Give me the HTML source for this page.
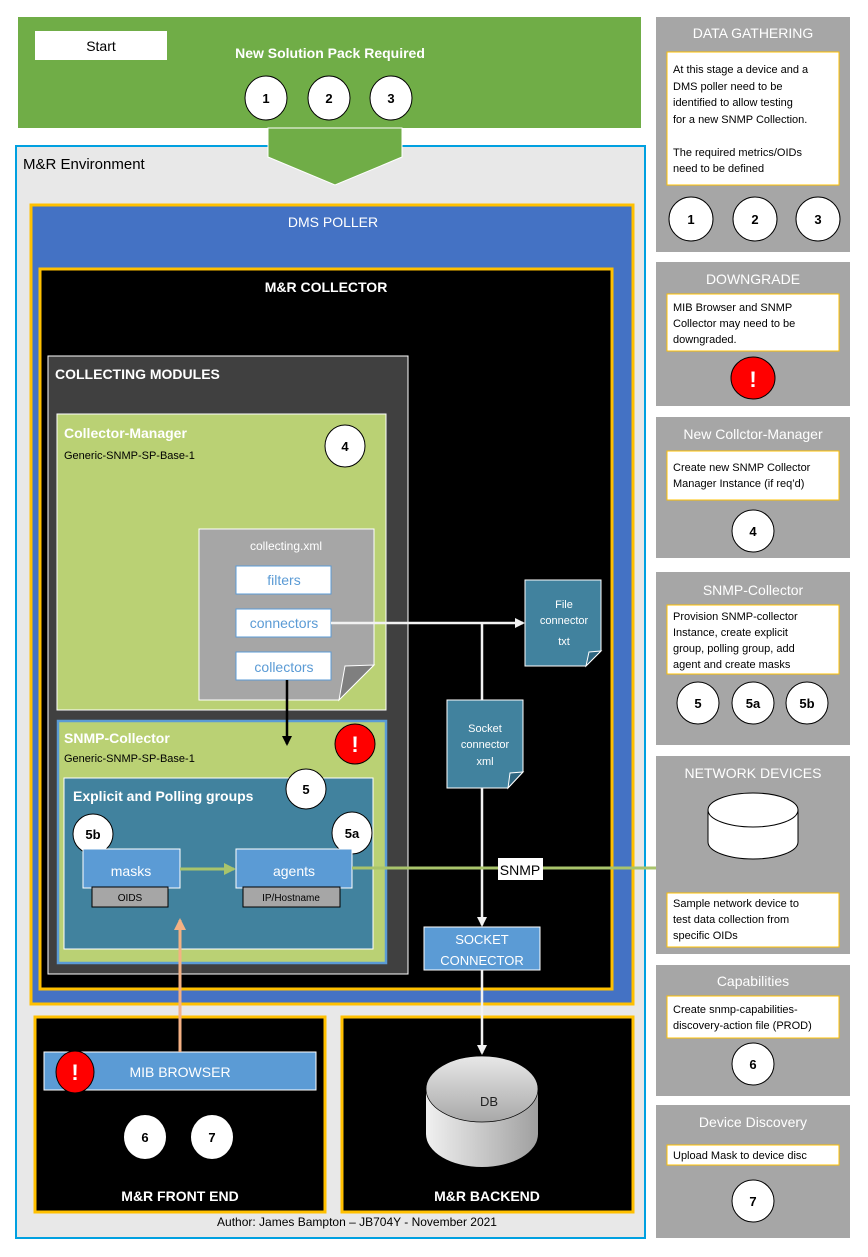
<!DOCTYPE html>
<html><head><meta charset="utf-8"><style>
html,body{margin:0;padding:0;background:#fff}
svg{display:block}
text{font-family:"Liberation Sans",sans-serif}
</style></head><body>
<svg width="868" height="1257" viewBox="0 0 868 1257" xmlns="http://www.w3.org/2000/svg">
<defs>
<marker id="aw" markerWidth="10" markerHeight="10" refX="8" refY="5" orient="auto" markerUnits="userSpaceOnUse"><path d="M0,0 L10,5 L0,10 z" fill="#f2f2f2"/></marker>
<marker id="ab" markerWidth="10" markerHeight="10" refX="8" refY="5" orient="auto" markerUnits="userSpaceOnUse"><path d="M0,0 L10,5 L0,10 z" fill="#000"/></marker>
<marker id="ag" markerWidth="12" markerHeight="12" refX="10" refY="6" orient="auto" markerUnits="userSpaceOnUse"><path d="M0,0 L12,6 L0,12 z" fill="#a9c46b"/></marker>
<marker id="as" markerWidth="12" markerHeight="12" refX="10" refY="6" orient="auto" markerUnits="userSpaceOnUse"><path d="M0,0 L12,6 L0,12 z" fill="#f4b183"/></marker>
<linearGradient id="cyl" x1="0" x2="1"><stop offset="0" stop-color="#f0f0f0"/><stop offset="1" stop-color="#a0a0a0"/></linearGradient>
<linearGradient id="cylt" x1="0" y1="0" x2="0" y2="1"><stop offset="0" stop-color="#e8e8e8"/><stop offset="1" stop-color="#a8a8a8"/></linearGradient>
</defs>

<rect x="18" y="17" width="623" height="111" fill="#70ad47"/>
<rect x="35" y="31" width="132" height="29" fill="#fff"/>
<text x="101" y="51" font-size="14" text-anchor="middle">Start</text>
<text x="330" y="58" font-size="14" font-weight="bold" fill="#fff" text-anchor="middle">New Solution Pack Required</text>
<g font-size="13" font-weight="bold" text-anchor="middle">
<ellipse cx="266" cy="98" rx="21" ry="22" fill="#fff" stroke="#000"/><text x="266" y="103">1</text>
<ellipse cx="329" cy="98" rx="21" ry="22" fill="#fff" stroke="#000"/><text x="329" y="103">2</text>
<ellipse cx="391" cy="98" rx="21" ry="22" fill="#fff" stroke="#000"/><text x="391" y="103">3</text>
</g>

<rect x="16" y="146" width="629" height="1092" fill="#e8e8e8" stroke="#00a0e0" stroke-width="2"/>
<text x="23" y="169" font-size="15">M&amp;R Environment</text>
<path d="M268,128 L402,128 L402,157 L335,185 L268,157 Z" fill="#70ad47" stroke="#fff" stroke-width="1"/>

<rect x="31" y="205" width="602" height="799" fill="#4472c4" stroke="#ffc000" stroke-width="3"/>
<text x="333" y="227" font-size="14" fill="#fff" text-anchor="middle">DMS POLLER</text>
<rect x="40" y="269" width="572" height="720" fill="#000" stroke="#ffc000" stroke-width="3"/>
<text x="326" y="292" font-size="14" font-weight="bold" fill="#fff" text-anchor="middle">M&amp;R COLLECTOR</text>

<rect x="48" y="356" width="360" height="618" fill="#404040" stroke="#fff" stroke-width="1"/>
<text x="55" y="379" font-size="14" font-weight="bold" fill="#fff">COLLECTING MODULES</text>

<rect x="57" y="414" width="329" height="296" fill="#bad174" stroke="#fff" stroke-width="1"/>
<text x="64" y="438" font-size="14" font-weight="bold" fill="#fff">Collector-Manager</text>
<text x="64" y="459" font-size="11">Generic-SNMP-SP-Base-1</text>
<ellipse cx="345" cy="446" rx="20" ry="21" fill="#fff" stroke="#000"/><text x="345" y="451" font-size="13" font-weight="bold" text-anchor="middle">4</text>

<path d="M199,529 L374,529 L374,665 L339,700 L199,700 Z" fill="#a6a6a6" stroke="#fff" stroke-width="1"/>
<path d="M339,700 L345,666 L374,665 Z" fill="#7f7f7f" stroke="#fff" stroke-width="1"/>
<text x="286" y="550" font-size="12" fill="#fff" text-anchor="middle">collecting.xml</text>
<g font-size="14" fill="#5b9bd5" text-anchor="middle">
<rect x="236" y="566" width="95" height="28" fill="#fff" stroke="#5b9bd5"/><text x="284" y="585">filters</text>
<rect x="236" y="609" width="95" height="28" fill="#fff" stroke="#5b9bd5"/><text x="284" y="628">connectors</text>
<rect x="236" y="652" width="95" height="28" fill="#fff" stroke="#5b9bd5"/><text x="284" y="672">collectors</text>
</g>

<rect x="58" y="721" width="328" height="242" fill="#bad174" stroke="#5b9bd5" stroke-width="2.5"/>
<text x="64" y="743" font-size="14" font-weight="bold" fill="#fff">SNMP-Collector</text>
<text x="64" y="762" font-size="11">Generic-SNMP-SP-Base-1</text>
<ellipse cx="355" cy="744" rx="20" ry="20" fill="#f00" stroke="#000"/><text x="355" y="752" font-size="22" font-weight="bold" fill="#fff" text-anchor="middle">!</text>

<rect x="64" y="778" width="309" height="171" fill="#41829e" stroke="#fff" stroke-width="1"/>
<text x="73" y="801" font-size="14" font-weight="bold" fill="#fff">Explicit and Polling groups</text>
<g font-size="13" font-weight="bold" text-anchor="middle">
<ellipse cx="306" cy="789" rx="20" ry="20" fill="#fff" stroke="#000"/><text x="306" y="794">5</text>
<ellipse cx="93" cy="834" rx="20" ry="20" fill="#fff" stroke="#000"/><text x="93" y="839">5b</text>
<ellipse cx="352" cy="833" rx="20" ry="21" fill="#fff" stroke="#000"/><text x="352" y="838">5a</text>
</g>
<rect x="83" y="849" width="97" height="39" fill="#5b9bd5" stroke="#fff"/>
<text x="131" y="876" font-size="14" fill="#fff" text-anchor="middle">masks</text>
<rect x="92" y="887" width="76" height="20" fill="#a6a6a6" stroke="#000"/>
<text x="130" y="901" font-size="10" text-anchor="middle">OIDS</text>
<rect x="236" y="849" width="116" height="39" fill="#5b9bd5" stroke="#fff"/>
<text x="294" y="876" font-size="14" fill="#fff" text-anchor="middle">agents</text>
<rect x="243" y="887" width="97" height="20" fill="#a6a6a6" stroke="#000"/>
<text x="291" y="901" font-size="10" text-anchor="middle">IP/Hostname</text>
<line x1="180" y1="869" x2="234" y2="869" stroke="#a9c46b" stroke-width="3" marker-end="url(#ag)"/>

<line x1="331" y1="623" x2="523" y2="623" stroke="#f2f2f2" stroke-width="2.5" marker-end="url(#aw)"/>
<line x1="482" y1="623" x2="482" y2="700" stroke="#f2f2f2" stroke-width="2.5"/>
<path d="M525,580 L601,580 L601,651 L586,666 L525,666 Z" fill="#41829e" stroke="#fff" stroke-width="1"/>
<path d="M586,666 L589,652 L601,651 Z" fill="#2f6680" stroke="#fff"/>
<g font-size="11" fill="#fff" text-anchor="middle"><text x="564" y="608">File</text><text x="564" y="624">connector</text><text x="564" y="645">txt</text></g>
<path d="M447,700 L523,700 L523,772 L508,788 L447,788 Z" fill="#41829e" stroke="#fff" stroke-width="1"/>
<path d="M508,788 L510,773 L523,772 Z" fill="#2f6680" stroke="#fff"/>
<g font-size="11" fill="#fff" text-anchor="middle"><text x="485" y="732">Socket</text><text x="485" y="748">connector</text><text x="485" y="765">xml</text></g>
<line x1="482" y1="788" x2="482" y2="925" stroke="#f2f2f2" stroke-width="2.5" marker-end="url(#aw)"/>
<rect x="424" y="927" width="116" height="43" fill="#5b9bd5" stroke="#fff"/>
<g font-size="13" fill="#fff" text-anchor="middle"><text x="482" y="944">SOCKET</text><text x="482" y="965">CONNECTOR</text></g>
<line x1="287" y1="680" x2="287" y2="744" stroke="#000" stroke-width="2.5" marker-end="url(#ab)"/>

<line x1="352" y1="868" x2="688" y2="868" stroke="#a9c46b" stroke-width="3" marker-end="url(#ag)"/>
<rect x="498" y="858" width="45" height="22" fill="#fff"/>
<text x="520" y="875" font-size="14" text-anchor="middle">SNMP</text>

<rect x="35" y="1017" width="290" height="195" fill="#000" stroke="#ffc000" stroke-width="3"/>
<rect x="44" y="1052" width="272" height="38" fill="#5b9bd5" stroke="#fff"/>
<text x="180" y="1077" font-size="14" fill="#fff" text-anchor="middle">MIB BROWSER</text>
<ellipse cx="75" cy="1072" rx="19" ry="21" fill="#f00" stroke="#000"/><text x="75" y="1080" font-size="22" font-weight="bold" fill="#fff" text-anchor="middle">!</text>
<line x1="180" y1="1052" x2="180" y2="920" stroke="#f4b183" stroke-width="3" marker-end="url(#as)"/>
<g font-size="13" font-weight="bold" text-anchor="middle">
<ellipse cx="145" cy="1137" rx="21" ry="22" fill="#fff"/><text x="145" y="1142">6</text>
<ellipse cx="212" cy="1137" rx="21" ry="22" fill="#fff"/><text x="212" y="1142">7</text>
</g>
<text x="180" y="1201" font-size="14" font-weight="bold" fill="#fff" text-anchor="middle">M&amp;R FRONT END</text>

<rect x="342" y="1017" width="291" height="195" fill="#000" stroke="#ffc000" stroke-width="3"/>
<line x1="482" y1="970" x2="482" y2="1053" stroke="#f2f2f2" stroke-width="2.5" marker-end="url(#aw)"/>
<path d="M426,1089 L426,1134 A56,33 0 0 0 538,1134 L538,1089 Z" fill="url(#cyl)"/>
<ellipse cx="482" cy="1089" rx="56" ry="33" fill="url(#cylt)" stroke="#000" stroke-width="0.7"/>
<text x="489" y="1106" font-size="13" fill="#222" text-anchor="middle">DB</text>
<text x="487" y="1201" font-size="14" font-weight="bold" fill="#fff" text-anchor="middle">M&amp;R BACKEND</text>
<text x="357" y="1226" font-size="12" text-anchor="middle">Author: James Bampton – JB704Y - November 2021</text>

<g font-size="11">
<rect x="656" y="17" width="194" height="235" fill="#a6a6a6"/>
<text x="753" y="38" font-size="14" fill="#fff" text-anchor="middle">DATA GATHERING</text>
<rect x="667" y="52" width="172" height="133" fill="#fff" stroke="#ffc000"/>
<text x="673" y="73">At this stage a device and a</text>
<text x="673" y="90">DMS poller need to be</text>
<text x="673" y="106">identified to allow testing</text>
<text x="673" y="123">for a new SNMP Collection.</text>
<text x="673" y="156">The required metrics/OIDs</text>
<text x="673" y="172">need to be defined</text>
<g font-size="13" font-weight="bold" text-anchor="middle">
<ellipse cx="691" cy="219" rx="22" ry="22" fill="#fff" stroke="#000"/><text x="691" y="224">1</text>
<ellipse cx="755" cy="219" rx="22" ry="22" fill="#fff" stroke="#000"/><text x="755" y="224">2</text>
<ellipse cx="818" cy="219" rx="22" ry="22" fill="#fff" stroke="#000"/><text x="818" y="224">3</text>
</g>

<rect x="656" y="262" width="194" height="144" fill="#a6a6a6"/>
<text x="753" y="284" font-size="14" fill="#fff" text-anchor="middle">DOWNGRADE</text>
<rect x="667" y="294" width="172" height="57" fill="#fff" stroke="#ffc000"/>
<text x="673" y="311">MIB Browser and SNMP</text>
<text x="673" y="327">Collector may need to be</text>
<text x="673" y="343">downgraded.</text>
<ellipse cx="753" cy="378" rx="22" ry="21" fill="#f00" stroke="#000"/><text x="753" y="387" font-size="22" font-weight="bold" fill="#fff" text-anchor="middle">!</text>

<rect x="656" y="417" width="194" height="141" fill="#a6a6a6"/>
<text x="753" y="439" font-size="14" fill="#fff" text-anchor="middle">New Collctor-Manager</text>
<rect x="667" y="451" width="172" height="49" fill="#fff" stroke="#ffc000"/>
<text x="673" y="471">Create new SNMP Collector</text>
<text x="673" y="487">Manager Instance (if req’d)</text>
<ellipse cx="753" cy="531" rx="21" ry="21" fill="#fff" stroke="#000"/><text x="753" y="536" font-size="13" font-weight="bold" text-anchor="middle">4</text>

<rect x="656" y="572" width="194" height="173" fill="#a6a6a6"/>
<text x="753" y="595" font-size="14" fill="#fff" text-anchor="middle">SNMP-Collector</text>
<rect x="667" y="605" width="172" height="69" fill="#fff" stroke="#ffc000"/>
<text x="673" y="620">Provision SNMP-collector</text>
<text x="673" y="636">Instance, create explicit</text>
<text x="673" y="652">group, polling group, add</text>
<text x="673" y="668">agent and create masks</text>
<g font-size="13" font-weight="bold" text-anchor="middle">
<ellipse cx="698" cy="703" rx="21" ry="21" fill="#fff" stroke="#000"/><text x="698" y="708">5</text>
<ellipse cx="753" cy="703" rx="21" ry="21" fill="#fff" stroke="#000"/><text x="753" y="708">5a</text>
<ellipse cx="807" cy="703" rx="21" ry="21" fill="#fff" stroke="#000"/><text x="807" y="708">5b</text>
</g>

<rect x="656" y="756" width="194" height="198" fill="#a6a6a6"/>
<text x="753" y="778" font-size="14" fill="#fff" text-anchor="middle">NETWORK DEVICES</text>
<path d="M708,810 L708,842 A45,17 0 0 0 798,842 L798,810 Z" fill="#fff" stroke="#000"/>
<ellipse cx="753" cy="810" rx="45" ry="17" fill="#fff" stroke="#000"/>
<rect x="667" y="893" width="172" height="54" fill="#fff" stroke="#ffc000"/>
<text x="673" y="907">Sample network device to</text>
<text x="673" y="923">test data collection from</text>
<text x="673" y="939">specific OIDs</text>

<rect x="656" y="965" width="194" height="131" fill="#a6a6a6"/>
<text x="753" y="986" font-size="14" fill="#fff" text-anchor="middle">Capabilities</text>
<rect x="667" y="996" width="172" height="42" fill="#fff" stroke="#ffc000"/>
<text x="673" y="1013">Create snmp-capabilities-</text>
<text x="673" y="1029">discovery-action file (PROD)</text>
<ellipse cx="753" cy="1064" rx="21" ry="21" fill="#fff" stroke="#000"/><text x="753" y="1069" font-size="13" font-weight="bold" text-anchor="middle">6</text>

<rect x="656" y="1105" width="194" height="133" fill="#a6a6a6"/>
<text x="753" y="1127" font-size="14" fill="#fff" text-anchor="middle">Device Discovery</text>
<rect x="667" y="1145" width="172" height="20" fill="#fff" stroke="#ffc000"/>
<text x="673" y="1159">Upload Mask to device disc</text>
<ellipse cx="753" cy="1201" rx="21" ry="21" fill="#fff" stroke="#000"/><text x="753" y="1206" font-size="13" font-weight="bold" text-anchor="middle">7</text>
</g>
</svg>
</body></html>
